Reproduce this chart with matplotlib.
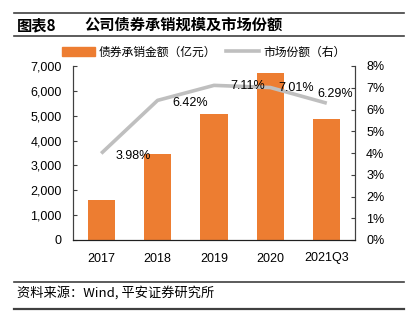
import matplotlib
matplotlib.use('Agg')
import matplotlib.pyplot as plt
from matplotlib.lines import Line2D
from matplotlib.patches import Patch

years = ['2017', '2018', '2019', '2020', '2021Q3']
amount = [1620, 3460, 5070, 6710, 4870]
share = [3.98, 6.42, 7.11, 7.01, 6.29]
share_labels = ['3.98%', '6.42%', '7.11%', '7.01%', '6.29%']

cjk = ['Noto Sans CJK SC', 'DejaVu Sans']
num = ['Liberation Sans', 'Noto Sans CJK SC']

fig = plt.figure(figsize=(4.15, 3.26), dpi=100)
ax = fig.add_axes([73/415, 1-240/326, 282/415, 174/326])
ax2 = ax.twinx()

x = list(range(len(years)))
ax.bar(x, amount, width=0.48, color='#ED7D31', zorder=2)
ax.set_ylim(0, 7000)
ax.set_xlim(-0.5, len(years)-0.5)
ax.set_yticks(range(0, 7001, 1000))
ax.set_yticklabels(['{:,}'.format(v) for v in range(0, 7001, 1000)], family=num, fontsize=9)
ax.set_xticks(x)
ax.set_xticklabels(years, family=num, fontsize=9)
ax.tick_params(axis='x', length=0, pad=9)
ax.tick_params(axis='y', direction='in', length=3, pad=8, color='#404040')

ax2.plot(x, share, color='#BFBFBF', lw=2.6, zorder=3, solid_capstyle='butt')
ax2.set_ylim(0, 8)
ax2.set_yticks(range(0, 9))
ax2.set_yticklabels(['{}%'.format(v) for v in range(0, 9)], family=num, fontsize=9)
ax2.tick_params(axis='y', direction='in', length=3, pad=8, color='#404040')

offsets = [(0.57, -0.1), (0.57, -0.1), (0.6, -0.05), (0.45, 0.0), (0.15, 0.4)]
for i, (v, lab) in enumerate(zip(share, share_labels)):
    dx, dy = offsets[i]
    ax2.text(i + dx, v + dy, lab, ha='center', va='center', fontsize=9, family=num, zorder=4)

for a in (ax, ax2):
    a.spines['top'].set_visible(False)
    a.spines['left'].set_color('#404040')
    a.spines['right'].set_color('#404040')
    a.spines['bottom'].set_color('#202020')
ax.set_zorder(ax2.get_zorder() - 1)
ax2.patch.set_visible(False)
ax.patch.set_visible(False)

handles = [Patch(color='#ED7D31'), Line2D([0], [0], color='#BFBFBF', lw=2.6)]
leg = fig.legend(handles, ['债券承销金额（亿元）', '市场份额（右）'], loc='center',
                 bbox_to_anchor=(0.49, 1-52/326), ncol=2, frameon=False,
                 prop={'family': cjk, 'size': 8.5}, handlelength=2.8, handleheight=0.8,
                 columnspacing=0.9, handletextpad=0.3)

# header / footer rules
for yy, lw in [(13, 1.2), (36, 1.2), (282, 1.2), (309, 1.6)]:
    fig.add_artist(Line2D([14/415, 404/415], [1-yy/326, 1-yy/326], color='#404040', lw=lw))
fig.text(17/415, 1-25/326, '图表8', family=cjk, fontsize=11, fontweight='bold', va='center')
fig.text(84/415, 1-25/326, '公司债券承销规模及市场份额', family=cjk, fontsize=11, fontweight='bold', va='center')
fig.text(17/415, 1-293/326, '资料来源：Wind, 平安证券研究所', family=cjk, fontsize=9.5,
         style='italic', va='center')

fig.savefig('out.png', dpi=100)
